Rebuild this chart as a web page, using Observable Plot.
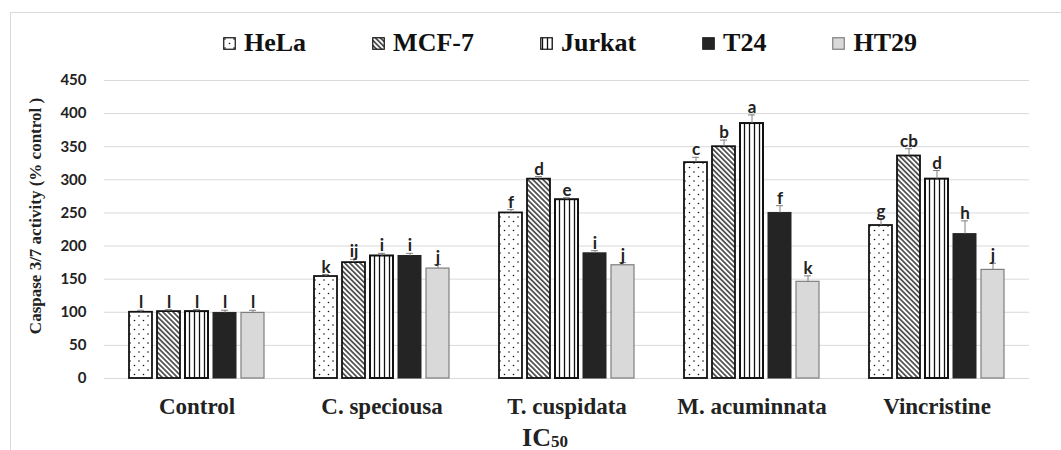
<!DOCTYPE html>
<html>
<head>
<meta charset="utf-8">
<script src="https://cdn.jsdelivr.net/npm/d3@7"></script>
<script src="https://cdn.jsdelivr.net/npm/@observablehq/plot@0.6"></script>
<style>
  html, body { margin: 0; padding: 0; background: #fff; }
  body { width: 1061px; height: 450px; overflow: hidden; position: relative; }
  #frame { position: absolute; left: 10px; top: 12px; width: 1200px; height: 600px; border: 1px solid #d9d9d9; }
  #legend { position: absolute; top: 28px; left: 223px; height: 30px; display: flex; align-items: center; gap: 66px;
            font-family: "Liberation Serif", "Times New Roman", serif; font-weight: bold; font-size: 26px; line-height: 30px; color: #111; }
  .item { display: flex; align-items: center; gap: 8px; }
  .item svg { display: block; }
  #chart { position: absolute; top: 62px; left: 0; }
</style>
</head>
<body>
<svg width="0" height="0" style="position:absolute">
  <defs>
    <pattern id="pDots" width="9" height="9" patternUnits="userSpaceOnUse">
      <rect width="9" height="9" fill="#fff"/>
      <circle cx="2" cy="2" r="0.8" fill="#111"/>
      <circle cx="6.5" cy="6.5" r="0.8" fill="#111"/>
    </pattern>
    <pattern id="pDiag" width="3.6" height="3.6" patternUnits="userSpaceOnUse" patternTransform="rotate(-45)">
      <rect width="3.6" height="3.6" fill="#fff"/>
      <line x1="1.8" y1="-1" x2="1.8" y2="5" stroke="#111" stroke-width="1.3"/>
    </pattern>
    <pattern id="pVert" width="5" height="5" patternUnits="userSpaceOnUse">
      <rect width="5" height="5" fill="#fff"/>
      <line x1="2.5" y1="-1" x2="2.5" y2="6" stroke="#111" stroke-width="1.3"/>
    </pattern>
  </defs>
</svg>
<div id="frame"></div>
<div id="legend"></div>
<div id="chart"></div>
<script>
// ---- data ----
const groups = ["Control", "C. speciousa", "T. cuspidata", "M. acuminnata", "Vincristine"];
const cells = ["HeLa", "MCF-7", "Jurkat", "T24", "HT29"];

const hela   = [100, 154, 250, 326, 231];
const mcf7   = [101, 175, 301, 350, 336];
const jurkat = [101, 185, 270, 385, 301];
const t24    = [ 99, 185, 189, 250, 218];
const ht29   = [ 99, 166, 171, 146, 164];

const helaErr   = [3, 3, 5,  8, 10];
const mcf7Err   = [3, 5, 4, 10, 11];
const jurkatErr = [3, 4, 3, 13, 13];
const t24Err    = [4, 4, 4, 11, 20];
const ht29Err   = [4, 6, 4,  9, 10];

const helaLetters   = ["l", "k",  "f", "c", "g"];
const mcf7Letters   = ["l", "ij", "d", "b", "cb"];
const jurkatLetters = ["l", "i",  "e", "a", "d"];
const t24Letters    = ["l", "i",  "i", "f", "h"];
const ht29Letters   = ["l", "j",  "j", "k", "j"];

const yTicks = [0, 50, 100, 150, 200, 250, 300, 350, 400, 450];

// ---- styling ----
const values = [hela, mcf7, jurkat, t24, ht29];
const errs = [helaErr, mcf7Err, jurkatErr, t24Err, ht29Err];
const letters = [helaLetters, mcf7Letters, jurkatLetters, t24Letters, ht29Letters];
const fills = ["url(#pDots)", "url(#pDiag)", "url(#pVert)", "#242424", "#d9d9d9"];
const strokes = ["#111", "#111", "#111", "#242424", "#7f7f7f"];
const strokeWidths = [1.8, 1.8, 2, 1, 1.2];

const data = groups.flatMap((g, gi) => cells.map((c, ci) => ({
  group: g, cell: c, value: values[ci][gi], err: errs[ci][gi], letter: letters[ci][gi]
})));

// ---- legend ----
const legend = document.getElementById("legend");
cells.forEach((c, i) => {
  const item = document.createElement("div");
  item.className = "item";
  item.innerHTML = `<svg width="13" height="13"><rect x="0.75" y="0.75" width="11.5" height="11.5" fill="${fills[i]}" stroke="${strokes[i]}" stroke-width="1.2"/></svg><span>${c}</span>`;
  legend.appendChild(item);
});

// ---- chart ----
const sans = "Lato, 'Open Sans', sans-serif";
const serif = "'Liberation Serif', 'Times New Roman', serif";

const marks = [
  Plot.gridY(yTicks, {stroke: "#d9d9d9", strokeOpacity: 1, strokeWidth: 1}),
  ...cells.map((c, i) => Plot.barY(data.filter(d => d.cell === c), {
    fx: "group", x: "cell", y: "value",
    fill: fills[i], stroke: strokes[i], strokeWidth: strokeWidths[i]
  })),
  Plot.ruleX(data, {fx: "group", x: "cell", y1: "value", y2: d => d.value + d.err, stroke: "#808080", strokeWidth: 1}),
  Plot.tickY(data, {fx: "group", x: "cell", y: d => d.value + d.err, stroke: "#808080", strokeWidth: 1, insetLeft: 8, insetRight: 8}),
  Plot.text(data, {fx: "group", x: "cell", y: d => d.value + d.err, text: "letter",
    lineAnchor: "bottom", dy: -2, fontSize: 17, fontFamily: sans, fontWeight: "bold", fill: "#222"}),
  Plot.axisY({ticks: yTicks, tickSize: 0, tickPadding: 18, fontSize: 15, fontFamily: sans, fontWeight: "bold", label: null, fill: "#222"}),
  Plot.axisFx({tickSize: 0, tickPadding: 19, fontSize: 23, fontFamily: serif, fontWeight: "bold", label: null, anchor: "bottom", fill: "#222"})
];

const chart = Plot.plot({
  width: 1061,
  height: 388,
  marginTop: 18,
  marginBottom: 72,
  marginLeft: 102,
  marginRight: 31,
  style: {background: "transparent", overflow: "visible"},
  fx: {domain: groups, padding: 0, label: null},
  x: {domain: cells, paddingInner: 0.19, paddingOuter: 0.85, axis: null},
  y: {domain: [0, 450], label: null, axis: null},
  marks
});

const svg = d3.select(chart);
// y-axis title
svg.append("text")
  .attr("transform", "translate(37,154) rotate(-90)")
  .attr("text-anchor", "middle")
  .attr("dominant-baseline", "middle")
  .attr("font-family", serif)
  .attr("font-weight", "bold")
  .attr("font-size", 17)
  .attr("fill", "#222")
  .text("Caspase 3/7 activity (% control )");
// x-axis title IC50
const t = svg.append("text")
  .attr("x", 545)
  .attr("y", 384)
  .attr("text-anchor", "middle")
  .attr("font-family", serif)
  .attr("font-weight", "bold")
  .attr("font-size", 26)
  .attr("fill", "#222");
t.append("tspan").text("IC");
t.append("tspan").attr("font-size", 17).attr("dy", 1).text("50");

document.getElementById("chart").appendChild(chart);
</script>
</body>
</html>
